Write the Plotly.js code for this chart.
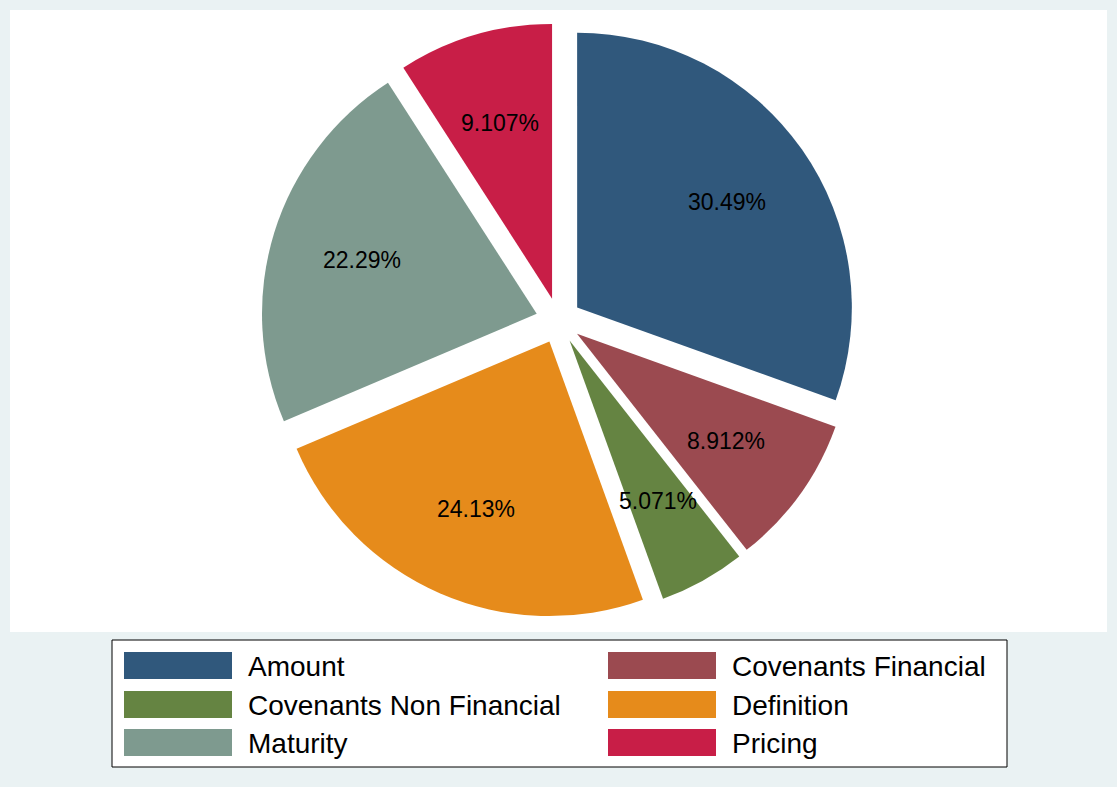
<!DOCTYPE html>
<html>
<head>
<meta charset="utf-8">
<script src="https://cdn.plot.ly/plotly-3.0.1.min.js"></script>
<style>html,body{margin:0;padding:0;background:#EAF2F3;}#chart{width:1117px;height:787px;}</style>
</head>
<body>
<div id="chart"></div>
<script>
const categories = ["Amount", "Covenants Financial", "Covenants Non Financial", "Definition", "Maturity", "Pricing"];
const shares = [30.49, 8.912, 5.071, 24.13, 22.29, 9.107];
const colors = ["#30587C", "#9B4A50", "#658442", "#E68B1B", "#7E9A8F", "#C81E47"];

const W = 1117, H = 787, T = 23, B = 169;
const PULL = 0.083;
const px = x => x / W;
const py = y => (H - B - y) / (H - T - B);

const shapes = [
  {type: "rect", xref: "paper", yref: "paper", x0: px(10), x1: px(1107), y0: py(632), y1: py(10),
   fillcolor: "#FFFFFF", line: {width: 0}, layer: "below"},
  {type: "rect", xref: "paper", yref: "paper", x0: px(112), x1: px(1007), y0: py(767), y1: py(640),
   fillcolor: "#FFFFFF", line: {color: "#000000", width: 1}, layer: "below"}
];
const annotations = [];
const colSw = [124, 608], colTx = [246, 730];
const rowTop = [652, 691, 729];
categories.forEach((c, i) => {
  const col = i % 2, row = Math.floor(i / 2);
  shapes.push({type: "rect", xref: "paper", yref: "paper",
    x0: px(colSw[col]), x1: px(colSw[col] + 108), y0: py(rowTop[row] + 27), y1: py(rowTop[row]),
    fillcolor: colors[i], line: {width: 0}, layer: "above"});
  annotations.push({xref: "paper", yref: "paper", x: px(colTx[col]), y: py(rowTop[row] + 14),
    xanchor: "left", yanchor: "middle", showarrow: false, text: c,
    font: {family: "Liberation Sans, Arial, sans-serif", size: 28, color: "#000000"}});
});

// Slice labels (Stata style: placed along each slice's bisector)
const plotH = H - T - B;
const radius = plotH / (2 * (1 + PULL));
const cx = W / 2, cy = T + plotH / 2;
const total = shares.reduce((a, b) => a + b, 0);
let cum = 0;
shares.forEach((v, i) => {
  const mid = (cum + v / 2) / total * 2 * Math.PI;
  cum += v;
  const rr = 0.75 * radius;
  annotations.push({xref: "paper", yref: "paper",
    x: px(cx + rr * Math.sin(mid)), y: py(cy - rr * Math.cos(mid)),
    xanchor: "center", yanchor: "middle", showarrow: false, text: v + "%",
    font: {family: "Liberation Sans, Arial, sans-serif", size: 23, color: "#000000"}});
});

const trace = {
  type: "pie",
  labels: categories,
  values: shares,
  sort: false,
  direction: "clockwise",
  rotation: 0,
  pull: shares.map(() => PULL),
  marker: {colors: colors, line: {width: 0}},
  textinfo: "none",
  textposition: "none",
  hoverinfo: "label+percent",
  showlegend: false
};

const layout = {
  width: W, height: H,
  margin: {l: 0, r: 0, t: T, b: B, pad: 0},
  paper_bgcolor: "#EAF2F3",
  showlegend: false,
  shapes: shapes,
  annotations: annotations
};
Plotly.newPlot("chart", [trace], layout, {displayModeBar: false, staticPlot: true});
</script>
</body>
</html>
